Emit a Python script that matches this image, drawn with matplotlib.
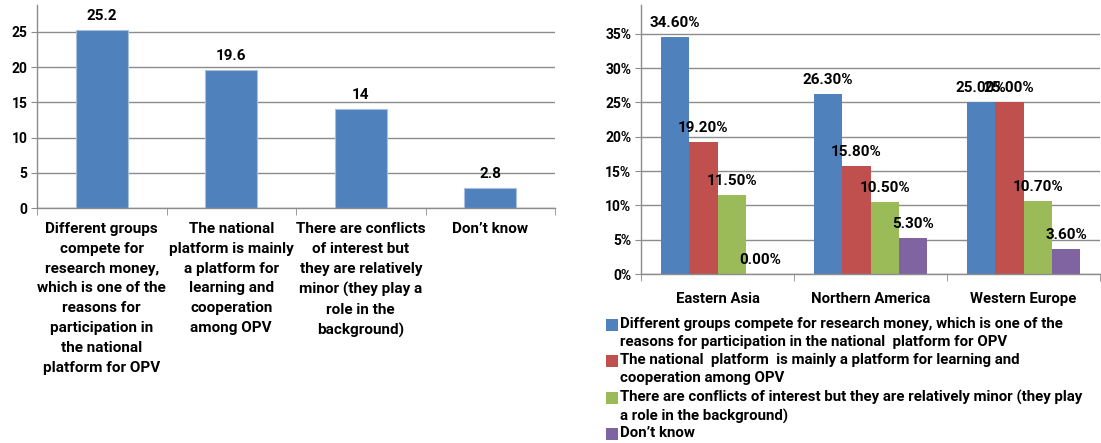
import numpy as np
import matplotlib.pyplot as plt
from matplotlib.patches import Rectangle

plt.rcParams['font.family'] = ['Roboto', 'DejaVu Sans']
plt.rcParams['font.weight'] = 'bold'

# left chart: overall answers
answers = [
    "Different groups\ncompete for\nresearch money,\nwhich is one of the\nreasons for\nparticipation in\nthe national\nplatform for OPV",
    "The national\nplatform is mainly\na platform for\nlearning and\ncooperation\namong OPV",
    "There are conflicts\nof interest but\nthey are relatively\nminor (they play a\nrole in the\nbackground)",
    "Don\u2019t know",
]
overall = [25.2, 19.6, 14, 2.8]
overall_labels = ["25.2", "19.6", "14", "2.8"]

# right chart: by region
regions = ["Eastern Asia", "Northern America", "Western Europe"]
series_names = [
    "Different groups compete for research money, which is one of the\nreasons for participation in the national  platform for OPV",
    "The national  platform  is mainly a platform for learning and\ncooperation among OPV",
    "There are conflicts of interest but they are relatively minor (they play\na role in the background)",
    "Don\u2019t know",
]
by_region = [
    [0.346, 0.263, 0.250],
    [0.192, 0.158, 0.250],
    [0.115, 0.105, 0.107],
    [0.000, 0.053, 0.036],
]
colors = ["#4F81BD", "#C0504D", "#9BBB59", "#8064A2"]
grid_c = "#8C8C8C"

W, H = 1101, 443
fig = plt.figure(figsize=(W / 100, H / 100), dpi=100)


def style_axis(ax):
    for s in ["top", "right"]:
        ax.spines[s].set_visible(False)
    for s in ["left", "bottom"]:
        ax.spines[s].set_color(grid_c)
        ax.spines[s].set_linewidth(1.0)
    ax.yaxis.grid(True, color=grid_c, lw=1.0)
    ax.set_axisbelow(True)
    ax.tick_params(axis="y", length=4, color=grid_c, labelsize=10, pad=3)
    ax.tick_params(axis="x", which="major", length=0)
    ax.tick_params(axis="x", which="minor", length=5, color=grid_c)


# --- left ---
ax1 = fig.add_axes([37 / W, 1 - 208 / H, (555 - 37) / W, (208 - 5) / H])
x1 = np.arange(len(answers))
ax1.bar(x1, overall, width=0.4, color=colors[0], edgecolor="#A7C0DE", lw=0.8)
for xi, v, t in zip(x1, overall, overall_labels):
    ax1.annotate(t, (xi, v), xytext=(0, 5), textcoords="offset points",
                 ha="center", va="bottom", fontsize=11, fontweight="bold")
ax1.set_xlim(-0.5, len(answers) - 0.5)
ax1.set_ylim(0, 28.8)
ax1.set_yticks([0, 5, 10, 15, 20, 25])
ax1.set_xticks(x1)
ax1.set_xticklabels(answers, linespacing=1.53, va="top", fontsize=11)
ax1.set_xticks(np.arange(-0.5, len(answers)), minor=True)
style_axis(ax1)
ax1.tick_params(axis="x", which="major", pad=10)

# --- right ---
ax2 = fig.add_axes([641 / W, 1 - 274 / H, (1100 - 641) / W, (274 - 5) / H])
x2 = np.arange(len(regions))
bw = 0.186
for i, (vals, c) in enumerate(zip(by_region, colors)):
    pos = x2 + (i - 1.5) * bw
    ax2.bar(pos, vals, width=bw, color=c)
    for p, v in zip(pos, vals):
        ax2.annotate(f"{v * 100:.2f}%", (p, v), xytext=(0, 5),
                     textcoords="offset points", ha="center", va="bottom",
                     fontsize=11, fontweight="bold")
ax2.set_xlim(-0.5, len(regions) - 0.5)
ax2.set_ylim(0, 0.392)
ax2.set_yticks(np.arange(0, 0.36, 0.05))
ax2.set_yticklabels([f"{int(round(t * 100))}%" for t in np.arange(0, 0.36, 0.05)])
ax2.set_xticks(x2)
ax2.set_xticklabels(regions, fontsize=10.7)
ax2.set_xticks(np.arange(-0.5, len(regions)), minor=True)
style_axis(ax2)
ax2.tick_params(axis="x", which="major", pad=13)

# legend drawn by hand so the swatch sits on the first line of each entry
line_h = 18.2
y = 325
for name, c in zip(series_names, colors):
    fig.patches.append(Rectangle((606 / W, 1 - (y + 6) / H), 12 / W, 12 / H,
                                 transform=fig.transFigure, facecolor=c))
    fig.text(620 / W, 1 - (y - 8) / H, name, ha="left", va="top",
             fontsize=10.8, linespacing=1.33)
    y += line_h * (name.count("\n") + 1)

fig.savefig("out.png", dpi=100)
